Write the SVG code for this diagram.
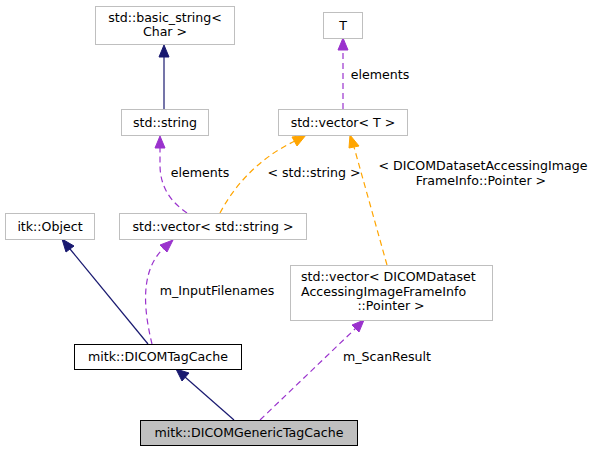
<svg xmlns="http://www.w3.org/2000/svg" width="597" height="452" viewBox="0 0 597 452">
<style>
text{font-family:"DejaVu Sans","Noto Sans",sans-serif;font-size:12.6px;fill:#000;text-anchor:middle}
.n rect{fill:#fff;stroke:#bfbfbf;stroke-width:1}
.k rect{fill:#fff;stroke:#000;stroke-width:1}
.cur rect{fill:#bfbfbf;stroke:#000;stroke-width:1}
.e{fill:none;stroke-width:1.2}
.nav{stroke:#191970}
.pur{stroke:#9a32cd;stroke-dasharray:6,4}
.org{stroke:#ffa500;stroke-dasharray:6,4}
.hn{fill:#191970;stroke:#191970}
.hp{fill:#9a32cd;stroke:#9a32cd}
.ho{fill:#ffa500;stroke:#ffa500}
</style>
<rect width="597" height="452" fill="#fff"/>
<g id="connectors">
  <g id="e1"><path class="e nav" d="M164,109 L164,57"/><polygon class="hn" points="164,45 169,57 159,57"/></g>
  <g id="e2"><path class="e pur" d="M343,109 L343,50"/><polygon class="hp" points="343,38 348,50 338,50"/><text x="380" y="79">elements</text></g>
  <g id="e3"><path class="e pur" d="M187,213 C174,204 160,190 160,165 L160,148"/><polygon class="hp" points="160,136 165,148 155,148"/><text x="200" y="177">elements</text></g>
  <g id="e4"><path class="e org" d="M220,213 C232,190 255,160 295,141"/><polygon class="ho" points="306,135 297,146 292,137"/><text x="314" y="177">&lt; std::string &gt;</text></g>
  <g id="e5"><path class="e org" d="M387,265 L354,147"/><polygon class="ho" points="350,135 359,146 349,148"/><text x="483" y="170">&lt; DICOMDatasetAccessingImage</text><text x="481" y="185">FrameInfo::Pointer &gt;</text></g>
  <g id="e6"><path class="e nav" d="M148,344 L70,249"/><polygon class="hn" points="62,239 74,246 66,252"/></g>
  <g id="e7"><path class="e pur" d="M152,344 C145,315 138,272 164,248"/><polygon class="hp" points="173,240 167,252 160,245"/><text x="217" y="295">m_InputFilenames</text></g>
  <g id="e8"><path class="e nav" d="M234,420 L185,377"/><polygon class="hn" points="176,369 189,373 182,381"/></g>
  <g id="e9"><path class="e pur" d="M260,420 L356,328"/><polygon class="hp" points="364,320 359,332 352,325"/><text x="387" y="361">m_ScanResult</text></g>
</g>
<g id="n_basic_string" class="n"><rect x="95.5" y="6.5" width="139" height="38"/><text x="165" y="22">std::basic_string&lt;</text><text x="165" y="36">Char &gt;</text></g>
<g id="n_T" class="n"><rect x="323.5" y="12.5" width="39" height="26"/><text x="343" y="30">T</text></g>
<g id="n_string" class="n"><rect x="121.5" y="109.5" width="87" height="26"/><text x="165" y="127">std::string</text></g>
<g id="n_vectorT" class="n"><rect x="278.5" y="109.5" width="129" height="26"/><text x="343" y="127">std::vector&lt; T &gt;</text></g>
<g id="n_itkObject" class="n"><rect x="5.5" y="213.5" width="89" height="26"/><text x="50" y="231">itk::Object</text></g>
<g id="n_vectorString" class="n"><rect x="119.5" y="213.5" width="187" height="26"/><text x="213" y="231">std::vector&lt; std::string &gt;</text></g>
<g id="n_vectorDicom" class="n"><rect x="290.5" y="265.5" width="202" height="55"/><text x="301" y="281" style="text-anchor:start">std::vector&lt; DICOMDataset</text><text x="301" y="296" style="text-anchor:start">AccessingImageFrameInfo</text><text x="391" y="310">::Pointer &gt;</text></g>
<g id="n_tagCache" class="k"><rect x="74.5" y="344.5" width="167" height="25"/><text x="158" y="361">mitk::DICOMTagCache</text></g>
<g id="n_genericTagCache" class="cur"><rect x="140.5" y="420.5" width="217" height="25"/><text x="249" y="437">mitk::DICOMGenericTagCache</text></g>
</svg>
